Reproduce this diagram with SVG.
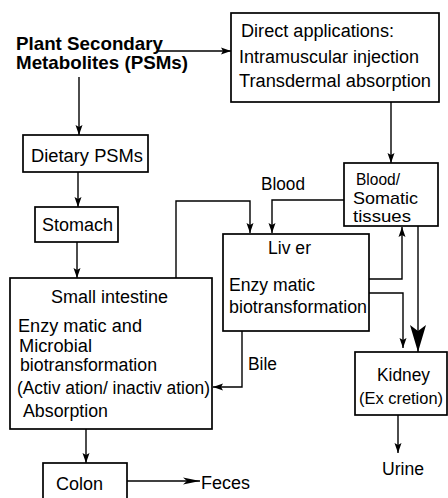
<svg xmlns="http://www.w3.org/2000/svg" width="448" height="498" viewBox="0 0 448 498">
<style>
.bx{fill:#fff;stroke:#000;stroke-width:1.7}
.ln{fill:none;stroke:#000;stroke-width:1.4}
text{font-family:"Liberation Sans",Arial,sans-serif;font-size:18px;fill:#000}
.b{font-weight:bold;font-size:19px}
.s{font-size:17px}
</style>
<defs>
<marker id="a" markerUnits="userSpaceOnUse" markerWidth="10" markerHeight="8" refX="10" refY="3.5" orient="auto" overflow="visible">
<path d="M0,0 L10,3.5 L0,7 L2,3.5 z" fill="#000"/>
</marker>
<marker id="f" markerUnits="userSpaceOnUse" markerWidth="17" markerHeight="8" refX="17" refY="3.5" orient="auto" overflow="visible">
<path d="M0,0 L17,3.5 L0,7 L4,3.5 z" fill="#000"/>
</marker>
<marker id="big" markerUnits="userSpaceOnUse" markerWidth="27" markerHeight="16" refX="27" refY="8" orient="auto" overflow="visible">
<path d="M0,0 L27,8 L0,16 L6,8 z" fill="#000"/>
</marker>
</defs>
<g id="psm">
<text class="b" x="16" y="50" textLength="147" lengthAdjust="spacingAndGlyphs">Plant Secondary</text>
<text class="b" x="16" y="69" textLength="172" lengthAdjust="spacingAndGlyphs">Metabolites (PSMs)</text>
</g>
<g id="direct">
<rect class="bx" x="231" y="13" width="208" height="89"/>
<text x="241" y="37" textLength="153" lengthAdjust="spacingAndGlyphs">Direct applications:</text>
<text x="239" y="63" textLength="180" lengthAdjust="spacingAndGlyphs">Intramuscular injection</text>
<text x="239" y="87" textLength="192" lengthAdjust="spacingAndGlyphs">Transdermal absorption</text>
</g>
<g id="dietary">
<rect class="bx" x="23" y="135" width="125" height="37"/>
<text x="31" y="162" textLength="112" lengthAdjust="spacingAndGlyphs">Dietary  PSMs</text>
</g>
<g id="stomach">
<rect class="bx" x="35" y="207" width="83" height="35"/>
<text x="42" y="231" textLength="71" lengthAdjust="spacingAndGlyphs">Stomach</text>
</g>
<g id="blood">
<rect class="bx" x="344" y="163" width="94" height="63"/>
<text class="s" x="356" y="185" textLength="44" lengthAdjust="spacingAndGlyphs">Blood/</text>
<text class="s" x="353" y="204" textLength="65" lengthAdjust="spacingAndGlyphs">Somatic</text>
<text class="s" x="353" y="222" textLength="58" lengthAdjust="spacingAndGlyphs">tissues</text>
</g>
<g id="liver">
<rect class="bx" x="223" y="234" width="146" height="97"/>
<text x="268" y="254" textLength="43" lengthAdjust="spacingAndGlyphs">Liv er</text>
<text x="229" y="291" textLength="86" lengthAdjust="spacingAndGlyphs">Enzy matic</text>
<text x="229" y="313" textLength="138" lengthAdjust="spacingAndGlyphs">biotransformation</text>
</g>
<g id="intestine">
<rect class="bx" x="10" y="278" width="202" height="151"/>
<text x="51" y="303" textLength="117" lengthAdjust="spacingAndGlyphs">Small intestine</text>
<text x="18" y="332" textLength="124" lengthAdjust="spacingAndGlyphs">Enzy matic and</text>
<text x="19" y="352" textLength="73" lengthAdjust="spacingAndGlyphs">Microbial</text>
<text x="20" y="371" textLength="137" lengthAdjust="spacingAndGlyphs">biotransformation</text>
<text x="17" y="394" textLength="193" lengthAdjust="spacingAndGlyphs">(Activ ation/ inactiv ation)</text>
<text x="23" y="417" textLength="85" lengthAdjust="spacingAndGlyphs">Absorption</text>
</g>
<g id="kidney">
<rect class="bx" x="355" y="352" width="92" height="63"/>
<text x="377" y="381" textLength="53" lengthAdjust="spacingAndGlyphs">Kidney</text>
<text x="359" y="404" style="font-size:17px" textLength="84" lengthAdjust="spacingAndGlyphs">(Ex cretion)</text>
</g>
<g id="colon">
<rect class="bx" x="43" y="463" width="84" height="40"/>
<text x="56" y="490" textLength="47" lengthAdjust="spacingAndGlyphs">Colon</text>
</g>
<g id="labels">
<text x="261" y="190" textLength="44" lengthAdjust="spacingAndGlyphs">Blood</text>
<text x="248" y="370" textLength="29" lengthAdjust="spacingAndGlyphs">Bile</text>
<text x="201" y="489" textLength="49" lengthAdjust="spacingAndGlyphs">Feces</text>
<text x="382" y="475" textLength="42" lengthAdjust="spacingAndGlyphs">Urine</text>
</g>
<g id="connectors">
<path class="ln" d="M158,51 H231" marker-end="url(#a)"/>
<path class="ln" d="M79,77 V135" marker-end="url(#a)"/>
<path class="ln" d="M78,172 V207" marker-end="url(#a)"/>
<path class="ln" d="M77,242 V278" marker-end="url(#a)"/>
<path class="ln" d="M391,102 V163" marker-end="url(#a)"/>
<path class="ln" d="M176,278 V201 H250 V233" marker-end="url(#a)"/>
<path class="ln" d="M344,200 H272 V233" marker-end="url(#a)"/>
<path class="ln" d="M369,279 H402 V227" marker-end="url(#a)"/>
<path class="ln" d="M369,293 H403 V348" marker-end="url(#a)"/>
<path class="ln" d="M418,226 V352" marker-end="url(#big)"/>
<path class="ln" d="M242,331 V387 H213" marker-end="url(#a)"/>
<path class="ln" d="M86,429 V463" marker-end="url(#a)"/>
<path class="ln" d="M127,481 H200" marker-end="url(#f)"/>
<path class="ln" d="M398,415 V453" marker-end="url(#a)"/>
</g>
</svg>
